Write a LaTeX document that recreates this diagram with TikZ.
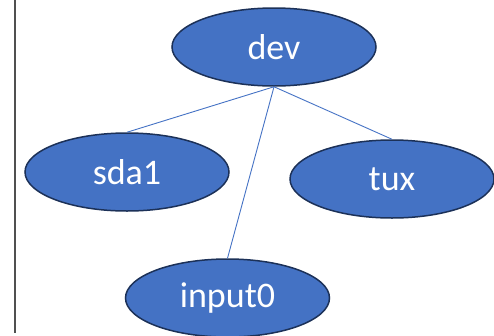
\documentclass[tikz,border=0pt]{standalone}
\usepackage{fontspec}
\setmainfont{Carlito}
\usetikzlibrary{shapes.geometric}
\definecolor{nodefill}{HTML}{4472C4}
\definecolor{nodeedge}{HTML}{1C3158}
\definecolor{edgeblue}{HTML}{4472C4}
\definecolor{rulegray}{HTML}{505050}
\tikzset{
  bubble/.style={ellipse, draw=nodeedge, fill=nodefill, line width=1.5pt,
    minimum width=204pt, minimum height=78pt, inner sep=0pt,
    text=white, font=\fontsize{36}{40}\selectfont},
  link/.style={draw=edgeblue, line width=0.9pt}
}
\begin{document}
\begin{tikzpicture}[x=1pt,y=-1pt]
  \useasboundingbox (0,0) rectangle (494,335);
  \clip (0,0) rectangle (494,335);
  \draw[rulegray, line width=1.5pt] (15,0) -- (15,333);
  \node[bubble] (dev) at (274,47) {dev};
  \node[bubble] (sda1) at (127,172) {sda1};
  \node[bubble] (tux) at (392,179) {tux};
  \node[bubble] (input0) at (227.5,298) {input0};
  \draw[link] (dev.south) -- (sda1.north);
  \draw[link] (dev.south) -- (tux.north);
  \draw[link] (dev.south) -- (input0.north);
\end{tikzpicture}
\end{document}
